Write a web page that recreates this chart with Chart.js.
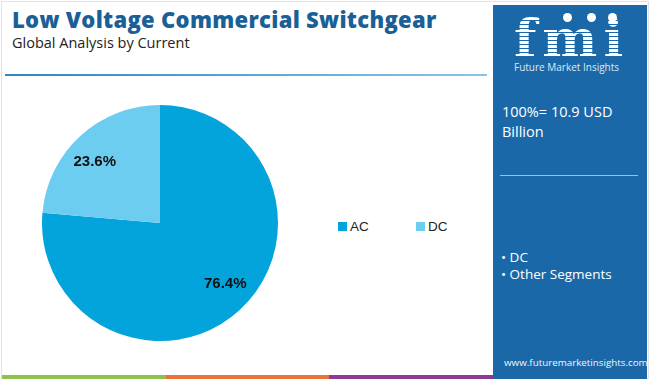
<!DOCTYPE html>
<html>
<head>
<meta charset="utf-8">
<script src="https://cdn.jsdelivr.net/npm/chart.js@4"></script>
<style>
  html, body { margin: 0; padding: 0; background: #fff; }
  body { width: 650px; height: 379px; position: relative; overflow: hidden; font-family: "Liberation Sans", Arial, sans-serif; }
  .frame { position: absolute; left: 1px; top: 1px; width: 646px; height: 376px; border: 1px solid #e2e2e2; }
  .title { position: absolute; left: 12px; top: 4px; font-family: "Open Sans", sans-serif; font-weight: 800; font-size: 22px; color: #1b5f97; letter-spacing: 0.3px; white-space: nowrap; }
  .subtitle { position: absolute; left: 12px; top: 33px; font-family: "Open Sans", sans-serif; font-size: 14.5px; color: #222; white-space: nowrap; }
  .hline { position: absolute; left: 5px; top: 74px; width: 482px; height: 2px; background: linear-gradient(to right, #2f86c0, #8cc3e6); }
  #chartBox { position: absolute; left: 42px; top: 105px; width: 236px; height: 236px; }
  .legend { position: absolute; top: 219px; font-size: 13.5px; color: #222; white-space: nowrap; }
  .legend i { display: inline-block; width: 9px; height: 9px; margin-right: 3px; }
  .panel { position: absolute; left: 493px; top: 5px; width: 154px; height: 374px; background: #1b68a8; color: #fff; font-family: "Open Sans", sans-serif; }
  .logo { position: absolute; left: 21px; top: 8px; font-family: "DejaVu Serif", serif; font-weight: bold; font-size: 52px; line-height: 52px; color: #fff; letter-spacing: 6px;
          -webkit-mask: repeating-linear-gradient(to bottom, #000 0 3px, transparent 3px 4px); }
  .logoSub { position: absolute; left: 21px; top: 55px; font-size: 10px; color: #dbe9f5; white-space: nowrap; }
  .dot { position: absolute; width: 9px; height: 9px; border-radius: 50%; background: #fff; top: 8px; }
  .total { position: absolute; left: 9px; top: 97px; font-size: 14.5px; line-height: 20px; }
  .divline { position: absolute; left: 7px; top: 170px; width: 138px; height: 1px; background: #9dbfdc; }
  .segs { position: absolute; left: 8px; top: 244px; font-size: 13.5px; line-height: 17px; }
  .url { position: absolute; left: 11px; top: 351px; font-size: 9.8px; color: #f2f6fa; white-space: nowrap; }
  .strip { position: absolute; top: 375px; height: 4px; }
</style>
</head>
<body>
<div class="frame"></div>
<div class="title">Low Voltage Commercial Switchgear</div>
<div class="subtitle">Global Analysis by Current</div>
<div class="hline"></div>

<div id="chartBox"><canvas id="pieChart" width="236" height="236"></canvas></div>
<div id="legend"></div>

<div class="panel">
  <div class="logo">fmi</div>
  <div class="dot" style="left:70px"></div>
  <div class="dot" style="left:94px"></div>
  <div class="dot" style="left:115px"></div>
  <div class="logoSub">Future Market Insights</div>
  <div class="total">100%= 10.9 USD<br>Billion</div>
  <div class="divline"></div>
  <div class="segs">• DC<br>• Other Segments</div>
  <div class="url">www.futuremarketinsights.com</div>
</div>

<div class="strip" style="left:2px;width:164px;background:#8dc34a"></div>
<div class="strip" style="left:166px;width:163px;background:#e8743b"></div>
<div class="strip" style="left:329px;width:164px;background:#8e3a94"></div>

<script>
const labels = ["AC", "DC"];
const shares = [76.4, 23.6];
const colors = ["#03a3dc", "#6dcdf1"];
const legendX = [338, 416];

// html legend from the same arrays
const legendEl = document.getElementById("legend");
labels.forEach((name, i) => {
  const d = document.createElement("div");
  d.className = "legend";
  d.style.left = legendX[i] + "px";
  d.innerHTML = '<i style="background:' + colors[i] + '"></i>' + name;
  legendEl.appendChild(d);
});

const sliceLabels = {
  id: "sliceLabels",
  afterDatasetsDraw(chart) {
    const ctx = chart.ctx;
    const meta = chart.getDatasetMeta(0);
    ctx.save();
    ctx.font = "bold 15px 'Liberation Sans', Arial, sans-serif";
    ctx.fillStyle = "#111";
    ctx.textAlign = "center";
    ctx.textBaseline = "middle";
    meta.data.forEach((arc, i) => {
      const p = arc.getProps(["x", "y", "startAngle", "endAngle", "outerRadius"], true);
      const mid = (p.startAngle + p.endAngle) / 2 - 0.08;
      const r = p.outerRadius * 0.755;
      ctx.fillText(shares[i].toFixed(1) + "%", p.x + Math.cos(mid) * r, p.y + Math.sin(mid) * r);
    });
    ctx.restore();
  }
};

new Chart(document.getElementById("pieChart"), {
  type: "pie",
  data: {
    labels: labels,
    datasets: [{
      data: shares,
      backgroundColor: colors,
      borderWidth: 0,
    }],
  },
  options: {
    responsive: false,
    animation: false,
    layout: { padding: 0 },
    plugins: {
      legend: { display: false },
      tooltip: { enabled: false },
    },
  },
  plugins: [sliceLabels],
});
</script>
</body>
</html>
